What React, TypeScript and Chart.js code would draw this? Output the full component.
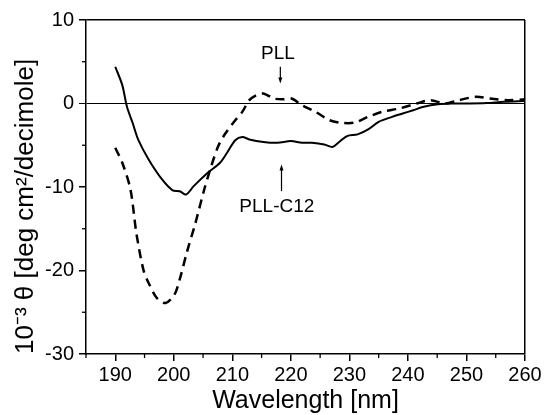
import { useEffect, useRef } from "react";
import { Chart, registerables } from "chart.js";

Chart.register(...registerables);

const FONT = "'Liberation Sans', Arial, Helvetica, sans-serif";

// PLL-C12 (solid line)
const pllC12Wavelength = [
  190, 191.2, 192, 193, 193.9, 195.7, 198, 199.8, 201, 202.1, 203.4, 205.8, 207.9, 209.1,
  210.5, 211.7, 212.9, 215.3, 217.7, 220, 221.9, 223.6, 225.7, 227.1, 228.1, 229.6, 231.4,
  233.2, 235, 237.3, 239.1, 240.9, 242.7, 245.1, 247.5, 250.5, 253.4, 256.4, 260,
];
const pllC12Theta = [
  4.4, 2.2, -0.4, -2.4, -4.3, -6.7, -9.1, -10.4, -10.5, -10.9, -9.9, -8.3, -7.1, -5.9,
  -4.4, -4.0, -4.3, -4.6, -4.7, -4.5, -4.7, -4.7, -4.9, -5.2, -4.7, -3.9, -3.7,
  -3.1, -2.2, -1.6, -1.2, -0.8, -0.4, -0.1, 0.0, 0.0, 0.05, 0.2, 0.3,
];

// PLL (dashed line)
const pllWavelength = [
  190, 191.2, 192.6, 193.6, 194.8, 195.7, 197.1, 198.6, 200.1, 201, 202.2, 203.7, 205.2,
  206.4, 207.6, 208.8, 210.5, 211.7, 212.9, 214.1, 215.3, 217.1, 218.6, 220.1, 221.9,
  224.2, 226.6, 228.4, 230.8, 233.2, 235.6, 238.5, 241.5, 243.9, 246.3, 248.7, 251.6,
  254, 257, 260,
];
const pllTheta = [
  -5.3, -7.1, -10.3, -15.5, -19.9, -21.5, -23.3, -23.9, -22.9, -21.1, -17.9, -14.3, -10.3,
  -7.5, -5.1, -3.6, -2.0, -1.0, 0.4, 1.0, 1.2, 0.6, 0.5, 0.6, -0.2,
  -1.0, -2.0, -2.3, -2.3, -1.6, -1.0, -0.6, 0.0, 0.4, 0.0, 0.4, 0.8,
  0.6, 0.4, 0.5,
];

const xTickLabels = [190, 200, 210, 220, 230, 240, 250, 260];
const xMinorTicks = [185, 195, 205, 215, 225, 235, 245, 255];
const yTickLabels = [10, 0, -10, -20, -30];
const yMinorTicks = [5, -5, -15, -25];

const labelNames = ["PLL", "PLL-C12"];
const labelX = [217.8, 217.6];
const labelY = [6.0, -12.4];
const arrowX = [218.2, 218.4];
const arrowFrom = [4.4, -10.5];
const arrowTo = [2.4, -7.3];

const toPoints = (xs: number[], ys: number[]) => xs.map((x, i) => ({ x, y: ys[i] }));

const extrasPlugin = {
  id: "extras",
  afterDraw(chart: any) {
    const { ctx, scales, chartArea } = chart;
    const xs = scales.x;
    const ys = scales.y;
    ctx.save();
    ctx.strokeStyle = "#000";
    ctx.fillStyle = "#000";
    ctx.lineWidth = 1.3;
    // minor ticks
    for (const v of xMinorTicks) {
      const px = xs.getPixelForValue(v);
      ctx.beginPath();
      ctx.moveTo(px, chartArea.bottom);
      ctx.lineTo(px, chartArea.bottom + 4);
      ctx.stroke();
    }
    for (const v of yMinorTicks) {
      const py = ys.getPixelForValue(v);
      ctx.beginPath();
      ctx.moveTo(chartArea.left, py);
      ctx.lineTo(chartArea.left - 4, py);
      ctx.stroke();
    }
    // labels & arrows
    ctx.font = `19px ${FONT}`;
    ctx.textAlign = "center";
    ctx.textBaseline = "middle";
    labelNames.forEach((name, i) => {
      ctx.fillText(name, xs.getPixelForValue(labelX[i]), ys.getPixelForValue(labelY[i]));
      const ax = xs.getPixelForValue(arrowX[i]);
      const y0 = ys.getPixelForValue(arrowFrom[i]);
      const y1 = ys.getPixelForValue(arrowTo[i]);
      const dir = y1 > y0 ? 1 : -1;
      ctx.lineWidth = 1.2;
      ctx.beginPath();
      ctx.moveTo(ax, y0);
      ctx.lineTo(ax, y1 - dir * 3);
      ctx.stroke();
      ctx.beginPath();
      ctx.moveTo(ax, y1);
      ctx.lineTo(ax - 2, y1 - dir * 6);
      ctx.lineTo(ax + 2, y1 - dir * 6);
      ctx.closePath();
      ctx.fill();
    });
    ctx.restore();
  },
};

export default function App() {
  const ref = useRef<HTMLCanvasElement>(null);
  useEffect(() => {
    document.body.style.margin = "0";
    const chart = new Chart(ref.current!, {
      type: "line",
      data: {
        datasets: [
          {
            label: "PLL-C12",
            data: toPoints(pllC12Wavelength, pllC12Theta),
            borderColor: "#000",
            borderWidth: 2,
            pointRadius: 0,
            tension: 0.3,
            fill: false,
          },
          {
            label: "PLL",
            data: toPoints(pllWavelength, pllTheta),
            borderColor: "#000",
            borderWidth: 2.5,
            borderDash: [9, 6],
            pointRadius: 0,
            tension: 0.3,
            fill: false,
          },
        ],
      },
      options: {
        animation: false,
        responsive: true,
        maintainAspectRatio: false,
        layout: { padding: { top: 20, right: 20, bottom: 0, left: 0 } },
        plugins: { legend: { display: false }, tooltip: { enabled: false } },
        scales: {
          x: {
            type: "linear",
            min: 185,
            max: 260,
            afterBuildTicks: (s: any) => {
              s.ticks = xTickLabels.map((v) => ({ value: v }));
            },
            afterFit: (s: any) => {
              s.height = 61;
            },
            ticks: {
              color: "#000",
              font: { family: FONT, size: 20 },
              padding: 2,
              autoSkip: false,
              maxRotation: 0,
              callback: (v: any) => String(v),
            },
            grid: {
              drawOnChartArea: true,
              color: (c: any) => (c.tick && c.tick.value === 260 ? "#000" : "rgba(0,0,0,0)"),
              lineWidth: 1.5,
              tickColor: "#000",
              tickLength: 7,
            },
            border: { display: true, color: "#000", width: 1.5 },
            title: {
              display: true,
              text: "Wavelength [nm]",
              color: "#000",
              font: { family: FONT, size: 25 },
              padding: { top: 0, bottom: -1 },
            },
          },
          y: {
            type: "linear",
            min: -30,
            max: 10,
            afterBuildTicks: (s: any) => {
              s.ticks = yTickLabels.map((v) => ({ value: v }));
            },
            afterFit: (s: any) => {
              s.width = 86;
            },
            ticks: {
              color: "#000",
              font: { family: FONT, size: 20 },
              padding: 5,
              callback: (v: any) => String(v),
            },
            grid: {
              drawOnChartArea: true,
              color: (c: any) =>
                c.tick && (c.tick.value === 0 || c.tick.value === 10) ? "#000" : "rgba(0,0,0,0)",
              lineWidth: (c: any) => (c.tick && c.tick.value === 0 ? 1 : 1.5),
              tickColor: "#000",
              tickLength: 7,
            },
            border: { display: true, color: "#000", width: 1.5 },
            title: {
              display: true,
              text: "10\u207B\u00B3 \u03B8 [deg cm\u00B2/decimole]",
              align: "start",
              color: "#000",
              font: { family: FONT, size: 26 },
              padding: { top: 10, bottom: 0 },
            },
          },
        },
      },
      plugins: [extrasPlugin],
    } as any);
    return () => chart.destroy();
  }, []);
  return (
    <div style={{ position: "relative", width: 545, height: 415 }}>
      <canvas ref={ref} />
    </div>
  );
}
